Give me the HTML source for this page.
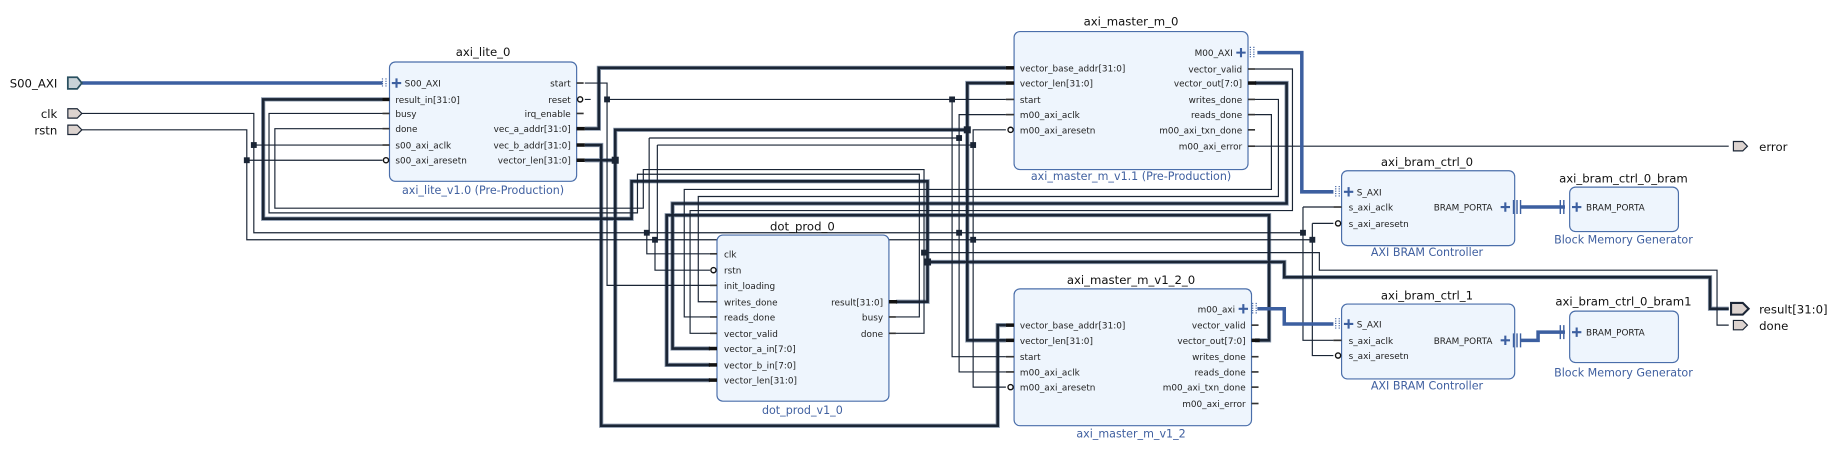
<!DOCTYPE html>
<html><head><meta charset="utf-8"><style>
html,body{margin:0;padding:0;background:#fff;}
svg{display:block;}
text{font-family:"DejaVu Sans","Liberation Sans",sans-serif;}
.t{font-size:10px;fill:#111;text-anchor:middle;}
.s{font-size:9.5px;fill:#4060a0;text-anchor:middle;}
.p{font-size:7.6px;fill:#222;}
.pr{font-size:7.6px;fill:#222;text-anchor:end;}
.box{fill:#eef5fd;stroke:#4a6eaa;stroke-width:1;}
.w{fill:none;stroke:#1a2535;stroke-width:1;}
.b{fill:none;stroke:#1a2535;stroke-width:2.2;}
.bh{fill:none;stroke:#8d9bae;stroke-width:3.6;}
.ax{fill:none;stroke:#3c5fa0;stroke-width:3;}
.st{stroke:#333;stroke-width:1.4;}
.stb{stroke:#111;stroke-width:3;}
.j{fill:#1a2535;}
.ext{fill:#dcd3cf;stroke:#1a2535;stroke-width:1;}
</style></head><body>
<svg width="1834" height="469" viewBox="0 0 1568 401" preserveAspectRatio="none" xmlns="http://www.w3.org/2000/svg">
<defs>
<g id="plus"><path d="M-4 0H4M0 -4V4" stroke="#3c5fa0" stroke-width="1.8"/></g>
</defs>

<path class="bh" d="M500 110H512V58H860"/>
<path class="bh" d="M500 124H514V364H853V278H860"/>
<path class="bh" d="M500 137H526V325H607M526 137V111H827V71H860M827 111V291H860"/>
<path class="bh" d="M766 258H793V224H1098V237H1462V264H1478"/>
<path class="bh" d="M793 224V155H540V187H225V85H327"/>
<path class="bh" d="M1073 71H1100V174H575V298H607"/>
<path class="bh" d="M1073 291H1085V184H570V312H607"/>
<path class="b" d="M500 110H512V58H860"/>
<path class="b" d="M500 124H514V364H853V278H860"/>
<path class="b" d="M500 137H526V325H607M526 137V111H827V71H860M827 111V291H860"/>
<path class="b" d="M766 258H793V224H1098V237H1462V264H1478"/>
<path class="b" d="M793 224V155H540V187H225V85H327"/>
<path class="b" d="M1073 71H1100V174H575V298H607"/>
<path class="b" d="M1073 291H1085V184H570V312H607"/>

<path class="w" d="M70 97H217V199H1114M1114 177H1140M1114 177V291H1140"/>
<path class="w" d="M70 111H211V205H1122M1122 191H1140M1122 191V304H1140"/>
<path class="w" d="M217 124H327M211 137H327"/>
<path class="w" d="M553 199V217H607M560 205V231H607"/>
<path class="w" d="M860 98H820V318H860M860 111H832V331H860"/>
<path class="w" d="M500 71H519V244H607M519 85H814V305H860M814 85H860M500 85H505"/>
<path class="w" d="M766 271H786V149H545V182H230V97H327"/>
<path class="w" d="M766 285H790V216H1128V231H1468V278H1478"/>
<path class="w" d="M790 216V145H550V178H235V110H327"/>
<path class="w" d="M1073 59H1105V180H590V285H607"/>
<path class="w" d="M1073 85H1093V168H597V258H607"/>
<path class="w" d="M1073 98H1087V162H585V271H607"/>
<path class="w" d="M1073 125H1478"/>
<path class="w" d="M555 118H820M562 124H832M555 118V199M562 124V205"/>

<path class="ax" d="M70 71H327"/>
<path class="ax" d="M1075 45H1113V164H1140"/>
<path class="ax" d="M1075 264H1098V277H1140"/>
<path class="ax" d="M1300 177H1338"/>
<path class="ax" d="M1300 291H1315V284H1338"/>

<g class="j">
<rect x="214.5" y="121.5" width="5" height="5"/><rect x="208.5" y="134.5" width="5" height="5"/>
<rect x="516.5" y="82.5" width="5" height="5"/><rect x="811.5" y="82.5" width="5" height="5"/>
<rect x="523" y="134" width="6" height="6"/><rect x="824" y="108" width="6" height="6"/>
<rect x="550.5" y="196.5" width="5" height="5"/><rect x="557.5" y="202.5" width="5" height="5"/>
<rect x="817.5" y="196.5" width="5" height="5"/><rect x="829.5" y="202.5" width="5" height="5"/>
<rect x="817.5" y="115.5" width="5" height="5"/><rect x="829.5" y="121.5" width="5" height="5"/>
<rect x="1111.5" y="196.5" width="5" height="5"/><rect x="1119.5" y="202.5" width="5" height="5"/>
<rect x="787.5" y="213.5" width="5" height="5"/><rect x="790" y="221" width="6" height="6"/>
</g>

<text x="49" y="75" style="font-size:10px;text-anchor:end;fill:#111">S00_AXI</text>
<path d="M58 66H66L70 71L66 76H58Z" fill="#c9d3d8" stroke="#2a5060" stroke-width="1.5"/>
<text x="49" y="101" style="font-size:10px;text-anchor:end;fill:#111">clk</text>
<path class="ext" d="M58 93H66L70 97L66 101H58Z"/>
<text x="49" y="115" style="font-size:10px;text-anchor:end;fill:#111">rstn</text>
<path class="ext" d="M58 107H66L70 111L66 115H58Z"/>
<path class="ext" d="M1482 121H1490L1494 125L1490 129H1482Z"/>
<text x="1504" y="129" style="font-size:10px;fill:#111">error</text>
<path class="ext" d="M1480 259H1490L1495 264L1490 269H1480Z" style="stroke-width:1.8"/>
<text x="1504" y="268" style="font-size:10px;fill:#111">result[31:0]</text>
<path class="ext" d="M1482 274H1490L1494 278L1490 282H1482Z"/>
<text x="1504" y="282" style="font-size:10px;fill:#111">done</text>

<text class="t" x="413" y="48">axi_lite_0</text>
<rect class="box" x="333" y="53" width="160" height="102" rx="5"/>
<text class="s" x="413" y="166">axi_lite_v1.0 (Pre-Production)</text>
<path d="M327 67V75M330 67V75" stroke="#3c5fa0" stroke-dasharray="1 1"/>
<use href="#plus" x="339" y="71"/>
<text class="p" x="346" y="74">S00_AXI</text>
<path class="stb" d="M327 85H333"/><text class="p" x="338" y="88">result_in[31:0]</text>
<path class="st" d="M327 97H333"/><text class="p" x="338" y="100">busy</text>
<path class="st" d="M327 110H333"/><text class="p" x="338" y="113">done</text>
<path class="st" d="M327 124H333"/><text class="p" x="338" y="127">s00_axi_aclk</text>
<circle cx="330" cy="137" r="2.2" fill="#fff" stroke="#111" stroke-width="1.2"/><text class="p" x="338" y="140">s00_axi_aresetn</text>
<path class="st" d="M493 71H499"/><text class="pr" x="488" y="74">start</text>
<circle cx="496" cy="85" r="2.2" fill="#fff" stroke="#111" stroke-width="1.2"/><text class="pr" x="488" y="88">reset</text>
<path class="st" d="M493 97H499"/><text class="pr" x="488" y="100">irq_enable</text>
<path class="stb" d="M493 110H500"/><text class="pr" x="488" y="113">vec_a_addr[31:0]</text>
<path class="stb" d="M493 124H500"/><text class="pr" x="488" y="127">vec_b_addr[31:0]</text>
<path class="stb" d="M493 137H500"/><text class="pr" x="488" y="140">vector_len[31:0]</text>

<text class="t" x="967" y="22">axi_master_m_0</text>
<rect class="box" x="867" y="27" width="200" height="118" rx="5"/>
<text class="s" x="967" y="154">axi_master_m_v1.1 (Pre-Production)</text>
<use href="#plus" x="1061" y="45"/>
<path d="M1069 40V50M1072 40V50" stroke="#3c5fa0" stroke-dasharray="1 1"/>
<text class="pr" x="1054" y="48">M00_AXI</text>
<path class="stb" d="M860 58H867"/><text class="p" x="872" y="61">vector_base_addr[31:0]</text>
<path class="stb" d="M860 71H867"/><text class="p" x="872" y="74">vector_len[31:0]</text>
<path class="st" d="M860 85H867"/><text class="p" x="872" y="88">start</text>
<path class="st" d="M860 98H867"/><text class="p" x="872" y="101">m00_axi_aclk</text>
<circle cx="864" cy="111" r="2.2" fill="#fff" stroke="#111" stroke-width="1.2"/><text class="p" x="872" y="114">m00_axi_aresetn</text>
<path class="st" d="M1067 59H1073"/><text class="pr" x="1062" y="62">vector_valid</text>
<path class="stb" d="M1067 71H1074"/><text class="pr" x="1062" y="74">vector_out[7:0]</text>
<path class="st" d="M1067 85H1073"/><text class="pr" x="1062" y="88">writes_done</text>
<path class="st" d="M1067 98H1073"/><text class="pr" x="1062" y="101">reads_done</text>
<path class="st" d="M1067 111H1073"/><text class="pr" x="1062" y="114">m00_axi_txn_done</text>
<path class="st" d="M1067 125H1073"/><text class="pr" x="1062" y="128">m00_axi_error</text>

<text class="t" x="686" y="197">dot_prod_0</text>
<rect class="box" x="613" y="201" width="147" height="142" rx="5"/>
<text class="s" x="686" y="354">dot_prod_v1_0</text>
<path class="st" d="M607 217H613"/><text class="p" x="619" y="220">clk</text>
<circle cx="610" cy="231" r="2.2" fill="#fff" stroke="#111" stroke-width="1.2"/><text class="p" x="619" y="234">rstn</text>
<path class="st" d="M607 244H613"/><text class="p" x="619" y="247">init_loading</text>
<path class="st" d="M607 258H613"/><text class="p" x="619" y="261">writes_done</text>
<path class="st" d="M607 271H613"/><text class="p" x="619" y="274">reads_done</text>
<path class="st" d="M607 285H613"/><text class="p" x="619" y="288">vector_valid</text>
<path class="stb" d="M606 298H613"/><text class="p" x="619" y="301">vector_a_in[7:0]</text>
<path class="stb" d="M606 312H613"/><text class="p" x="619" y="315">vector_b_in[7:0]</text>
<path class="stb" d="M606 325H613"/><text class="p" x="619" y="328">vector_len[31:0]</text>
<path class="stb" d="M760 258H767"/><text class="pr" x="755" y="261">result[31:0]</text>
<path class="st" d="M760 271H766"/><text class="pr" x="755" y="274">busy</text>
<path class="st" d="M760 285H766"/><text class="pr" x="755" y="288">done</text>

<text class="t" x="967" y="243">axi_master_m_v1_2_0</text>
<rect class="box" x="867" y="247" width="203" height="117" rx="5"/>
<text class="s" x="967" y="374">axi_master_m_v1_2</text>
<use href="#plus" x="1063" y="264"/>
<path d="M1071 259V269M1074 259V269" stroke="#3c5fa0" stroke-dasharray="1 1"/>
<text class="pr" x="1056" y="267">m00_axi</text>
<path class="stb" d="M860 278H867"/><text class="p" x="872" y="281">vector_base_addr[31:0]</text>
<path class="stb" d="M860 291H867"/><text class="p" x="872" y="294">vector_len[31:0]</text>
<path class="st" d="M860 305H867"/><text class="p" x="872" y="308">start</text>
<path class="st" d="M860 318H867"/><text class="p" x="872" y="321">m00_axi_aclk</text>
<circle cx="864" cy="331" r="2.2" fill="#fff" stroke="#111" stroke-width="1.2"/><text class="p" x="872" y="334">m00_axi_aresetn</text>
<path class="st" d="M1070 278H1076"/><text class="pr" x="1065" y="281">vector_valid</text>
<path class="stb" d="M1070 291H1077"/><text class="pr" x="1065" y="294">vector_out[7:0]</text>
<path class="st" d="M1070 305H1076"/><text class="pr" x="1065" y="308">writes_done</text>
<path class="st" d="M1070 318H1076"/><text class="pr" x="1065" y="321">reads_done</text>
<path class="st" d="M1070 331H1076"/><text class="pr" x="1065" y="334">m00_axi_txn_done</text>
<path class="st" d="M1070 345H1076"/><text class="pr" x="1065" y="348">m00_axi_error</text>

<text class="t" x="1220" y="142">axi_bram_ctrl_0</text>
<rect class="box" x="1147" y="146" width="148" height="64" rx="5"/>
<text class="s" x="1220" y="219">AXI BRAM Controller</text>
<path d="M1142 159V169M1145 159V169" stroke="#3c5fa0" stroke-dasharray="1 1"/>
<use href="#plus" x="1153" y="164"/><text class="p" x="1160" y="167">S_AXI</text>
<path class="st" d="M1140 177H1147"/><text class="p" x="1153" y="180">s_axi_aclk</text>
<circle cx="1144" cy="191" r="2.2" fill="#fff" stroke="#111" stroke-width="1.2"/><text class="p" x="1153" y="194">s_axi_aresetn</text>
<text class="pr" x="1276" y="180">BRAM_PORTA</text><use href="#plus" x="1287" y="177"/>
<path d="M1294 171V183M1297 171V183M1300 171V183" stroke="#3c5fa0" stroke-width="1.2"/>

<text class="t" x="1388" y="156">axi_bram_ctrl_0_bram</text>
<rect class="box" x="1342" y="160" width="93" height="38" rx="5"/>
<text class="s" x="1388" y="208">Block Memory Generator</text>
<path d="M1334 171V183M1337 171V183" stroke="#3c5fa0" stroke-width="1.2"/>
<use href="#plus" x="1348" y="177"/><text class="p" x="1356" y="180">BRAM_PORTA</text>

<text class="t" x="1220" y="256">axi_bram_ctrl_1</text>
<rect class="box" x="1147" y="260" width="148" height="64" rx="5"/>
<text class="s" x="1220" y="333">AXI BRAM Controller</text>
<path d="M1142 272V282M1145 272V282" stroke="#3c5fa0" stroke-dasharray="1 1"/>
<use href="#plus" x="1153" y="277"/><text class="p" x="1160" y="280">S_AXI</text>
<path class="st" d="M1140 291H1147"/><text class="p" x="1153" y="294">s_axi_aclk</text>
<circle cx="1144" cy="304" r="2.2" fill="#fff" stroke="#111" stroke-width="1.2"/><text class="p" x="1153" y="307">s_axi_aresetn</text>
<text class="pr" x="1276" y="294">BRAM_PORTA</text><use href="#plus" x="1287" y="291"/>
<path d="M1294 285V297M1297 285V297M1300 285V297" stroke="#3c5fa0" stroke-width="1.2"/>

<text class="t" x="1388" y="261">axi_bram_ctrl_0_bram1</text>
<rect class="box" x="1342" y="266" width="93" height="44" rx="5"/>
<text class="s" x="1388" y="322">Block Memory Generator</text>
<path d="M1334 278V290M1337 278V290" stroke="#3c5fa0" stroke-width="1.2"/>
<use href="#plus" x="1348" y="284"/><text class="p" x="1356" y="287">BRAM_PORTA</text>
</svg>
</body></html>
